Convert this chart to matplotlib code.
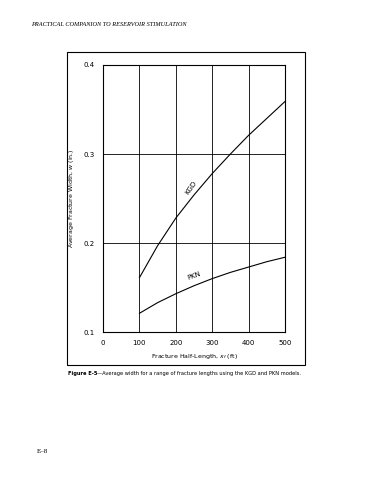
import matplotlib.pyplot as plt
from matplotlib.patches import Rectangle

# --- DATA ---
half_length = [100, 150, 200, 250, 300, 350, 400, 450, 500]  # ft
kgd_width = [0.161, 0.197, 0.228, 0.254, 0.278, 0.300, 0.321, 0.340, 0.359]  # in.
pkn_width = [0.121, 0.133, 0.143, 0.152, 0.160, 0.167, 0.173, 0.179, 0.184]  # in.

x_ticks = [0, 100, 200, 300, 400, 500]
y_ticks = [0.1, 0.2, 0.3, 0.4]

fig = plt.figure(figsize=(3.7, 4.8), dpi=100)

# outer frame around the figure block
fig.patches.append(Rectangle((0.181, 0.240), 0.643, 0.652, transform=fig.transFigure,
                             fill=False, edgecolor='black', linewidth=0.8))

ax = fig.add_axes([0.2784, 0.3083, 0.4919, 0.5563])
ax.plot(half_length, kgd_width, color='black', linewidth=0.8)
ax.plot(half_length, pkn_width, color='black', linewidth=0.8)

ax.set_xlim(0, 500)
ax.set_ylim(0.1, 0.4)
ax.set_xticks(x_ticks)
ax.set_yticks(y_ticks)
ax.set_xticklabels([str(t) for t in x_ticks])
ax.set_yticklabels([f"{t:.1f}" for t in y_ticks])
ax.tick_params(length=0, labelsize=5, pad=6)
ax.grid(True, color='black', linewidth=0.6)
for s in ax.spines.values():
    s.set_linewidth(0.8)

ax.set_xlabel('Fracture Half-Length, $x_f$ (ft)', fontsize=4.5, labelpad=4)
ax.set_ylabel('Average Fracture Width, $w$ (in.)', fontsize=4.5, labelpad=5)

ax.text(243, 0.262, 'KGD', fontsize=5, rotation=55, ha='center', va='center')
ax.text(250, 0.163, 'PKN', fontsize=5, rotation=20, ha='center', va='center')

# page header, caption and footer
fig.text(0.085, 0.950, 'PRACTICAL COMPANION TO RESERVOIR STIMULATION',
         fontsize=4.5, family='Liberation Serif', style='italic', va='center')

# caption: bold label, then the rest placed right after it
cap_bold = fig.text(0.183, 0.222, 'Figure E-5', fontsize=3.7, weight='bold', va='center')
renderer = fig.canvas.get_renderer()
bb = cap_bold.get_window_extent(renderer=renderer)
x_next = fig.transFigure.inverted().transform((bb.x1, bb.y0))[0]
fig.text(x_next, 0.222,
         '\u2014Average width for a range of fracture lengths using the KGD and PKN models.',
         fontsize=3.7, va='center')

fig.text(0.10, 0.060, 'E\u20138', fontsize=5, family='Liberation Serif', va='center')

fig.savefig('out.png', dpi=100)
